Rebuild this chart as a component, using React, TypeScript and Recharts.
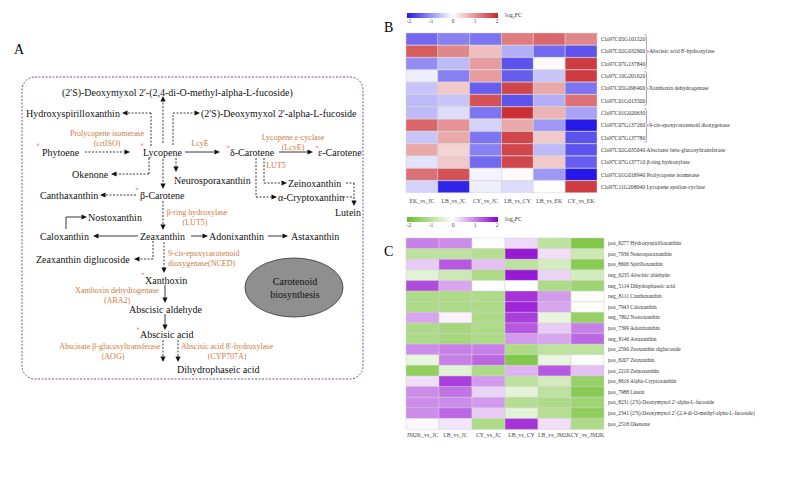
import React from "react";
import {
  BarChart, Bar, Cell, XAxis, YAxis, ScatterChart, Scatter, ReferenceLine, ReferenceArea,
} from "recharts";

const SERIF = "'Liberation Serif', 'Times New Roman', serif";

// ---------- B: carotenoid genes, log2FC ----------
const bComparisons = ["EK_vs_JC", "LB_vs_JC", "CY_vs_JC", "LB_vs_CY", "LB_vs_EK", "CY_vs_EK"];
const bGenes = [
  "Cla97C05G101520", "Cla97C02G032900", "Cla97C07G137840", "Cla97C10G201620",
  "Cla97C05G096400", "Cla97C01G013500", "Cla97C01G020630", "Cla97C07G137260",
  "Cla97C07G137780", "Cla97C02G035040", "Cla97C07G137710", "Cla97C01G018940",
  "Cla97C11G208040",
];
const bNotes = [
  "", "", "", "", "", "", "", "", "",
  "Abscisate beta-glucosyltransferase", "β-ring hydroxylase", "Prolycopene isomerase", "Lycopene epsilon-cyclase",
];
const bGroups = [
  { first: 0, last: 2, label: "Abscisic acid 8'-hydroxylase" },
  { first: 3, last: 5, label: "Xanthoxin dehydrogenase" },
  { first: 6, last: 8, label: "9-cis-epoxycarotenoid dioxygenase" },
];
const ekVsJc = [-1.3, 1.5, -1.0, -0.15, -0.5, -0.6, -0.6, 1.4, -0.5, 0.8, -0.25, 1.3, -0.4];
const lbVsJc = [-1.1, 1.1, -0.6, -1.1, 0.5, -0.5, -0.3, 1.0, 0.8, 0.4, 0.5, 1.6, -1.9];
const cyVsJc = [-1.2, 0.6, 0.9, 0.9, -1.4, 1.6, -1.2, -0.4, -1.2, -1.1, -1.3, -0.1, -0.15];
const lbVsCy = [1.2, -0.7, -1.5, -1.4, 1.7, -1.5, 1.9, 0.8, 1.7, 1.7, 1.7, 0.05, -0.3];
const lbVsEk = [1.4, -1.3, 0.05, -0.5, 0.8, -0.7, 0.7, -0.9, 0.5, -0.6, 0.5, -0.9, 0];
const cyVsEk = [1.1, -1.5, 1.8, 1.8, -1.2, 1.3, -0.8, -2.0, -1.5, -1.5, -1.4, -2.0, 1.8];
const bSeries = [ekVsJc, lbVsJc, cyVsJc, lbVsCy, lbVsEk, cyVsEk];

// ---------- C: carotenoid metabolites, log2FC ----------
const cComparisons = ["JM2K_vs_JC", "LB_vs_JC", "CY_vs_JC", "LB_vs_CY", "LB_vs_JM2K", "CY_vs_JM2K"];
const cMetabolites = [
  "pos_8277 Hydroxyspirilloxanthin", "pos_7936 Neurosporaxanthin", "pos_8606 Spirilloxanthin",
  "neg_6235 Abscisic aldehyde", "neg_5114 Dihydrophaseic acid", "neg_8111 Canthaxanthin",
  "pos_7943 Caloxanthin", "neg_7802 Nostoxanthin", "pos_7399 Adonixanthin", "neg_8146 Astaxanthin",
  "pos_2590 Zeaxanthin diglucoside", "pos_8207 Zeaxanthin", "pos_2210 Zeinoxanthin",
  "pos_8616 Alpha-Cryptoxanthin", "pos_7988 Lutein",
  "pos_8231 (2'S)-Deoxymyxol 2'-alpha-L-fucoside",
  "pos_2341 (2'S)-Deoxymyxol 2'-(2,4-di-O-methyl-alpha-L-fucoside)",
  "pos_2518 Okenone",
];
const jm2kVsJcM = [1.0, -0.9, 0.4, -0.4, 1.4, -1.1, -1.1, 0.7, -1.1, -1.1, 0.9, -0.3, -1.5, 0.25, 0.9, 0.9, 0.9, 0.05];
const lbVsJcM = [0.9, -0.9, 1.3, -0.7, 0.7, -1.1, -1.1, 0.1, -1.2, -1.2, 1.0, 1.0, -0.4, 1.5, 1.1, 0.9, 1.2, 0.2];
const cyVsJcM = [0, -1.0, 0.5, -1.1, 0, -1.1, -1.1, -1.1, -1.1, -1.1, 1.0, 1.2, -1.1, 0.8, 0.35, 0.8, 0.4, -1.1];
const lbVsCyM = [0.3, 1.8, -0.9, 1.8, 0, 1.6, 1.7, 1.5, 1.3, 0.8, -1.1, -1.7, 0.6, -0.9, -0.35, -1.0, -0.4, 1.6];
const lbVsJm2kM = [-0.9, 0.25, -0.6, 0.35, -1.1, 0.8, 0.7, -0.3, 0.4, 0.7, -0.9, -0.3, 1.3, -0.6, -0.9, -1.1, -1.0, 0.25];
const cyVsJm2kM = [-1.7, -0.7, -1.6, -0.6, -1.3, -0.05, -0.05, -1.4, 1.0, 1.2, -0.9, -0.05, 0.5, -1.4, -1.6, -1.3, -1.5, -1.1];
const cSeries = [jm2kVsJcM, lbVsJcM, cyVsJcM, lbVsCyM, lbVsJm2kM, cyVsJm2kM];

const legendTicks = ["-2", "-1", "0", "1", "2"];

// ---------- A: pathway diagram ----------
const compounds = [
  { name: "(2'S)-Deoxymyxol 2'-(2,4-di-O-methyl-alpha-L-fucoside)", x: 62, y: 92 },
  { name: "Hydroxyspirilloxanthin", x: 26, y: 113 },
  { name: "(2'S)-Deoxymyxol 2'-alpha-L-fucoside", x: 201, y: 113 },
  { name: "Phytoene", x: 42, y: 152 },
  { name: "Lycopene", x: 143, y: 152 },
  { name: "δ-Carotene", x: 230, y: 152 },
  { name: "ε-Carotene", x: 318, y: 152 },
  { name: "Okenone", x: 72, y: 174 },
  { name: "Neurosporaxanthin", x: 174, y: 180 },
  { name: "Zeinoxanthin", x: 288, y: 183 },
  { name: "Canthaxanthin", x: 40, y: 195 },
  { name: "β-Carotene", x: 140, y: 195 },
  { name: "α-Cryptoxanthin", x: 278, y: 197 },
  { name: "Lutein", x: 335, y: 212 },
  { name: "Nostoxanthin", x: 88, y: 217 },
  { name: "Caloxanthin", x: 40, y: 236 },
  { name: "Zeaxanthin", x: 140, y: 236 },
  { name: "Adonixanthin", x: 209, y: 236 },
  { name: "Astaxanthin", x: 291, y: 236 },
  { name: "Zeaxanthin diglucoside", x: 36, y: 259 },
  { name: "Xanthoxin", x: 145, y: 280 },
  { name: "Abscisic aldehyde", x: 129, y: 309 },
  { name: "Abscisic acid", x: 140, y: 334 },
  { name: "Dihydrophaseic acid", x: 177, y: 369 },
  { name: "Carotenoid", x: 295, y: 281, anchor: "middle" },
  { name: "biosynthesis", x: 295, y: 294, anchor: "middle" },
];
const enzymes = [
  { name: "Prolycopene isomerase", x: 107, y: 133 },
  { name: "(crtISO)", x: 107, y: 143 },
  { name: "LcyE", x: 200, y: 143 },
  { name: "Lycopene ε-cyclase", x: 293, y: 137 },
  { name: "(LcyE)", x: 293, y: 147 },
  { name: "LUT5", x: 276, y: 165 },
  { name: "β-ring hydroxylase", x: 197, y: 212 },
  { name: "(LUT5)", x: 195, y: 222 },
  { name: "9-cis-epoxycarotenoid", x: 168, y: 253, anchor: "start" },
  { name: "dioxygenase(NCED)", x: 168, y: 263, anchor: "start" },
  { name: "Xanthoxin dehydrogenase", x: 117, y: 290 },
  { name: "(ABA2)", x: 117, y: 300 },
  { name: "Abscisate β-glucosyltransferase", x: 110, y: 346 },
  { name: "(AOG)", x: 113, y: 356 },
  { name: "Abscisic acid 8'-hydroxylase", x: 227, y: 346 },
  { name: "(CYP707A)", x: 227, y: 356 },
];
const crosses = [
  { name: "×", x: 38, y: 145 }, { name: "×", x: 142, y: 145 }, { name: "×", x: 137, y: 189 },
  { name: "×", x: 228, y: 147 }, { name: "×", x: 317, y: 147 }, { name: "×", x: 143, y: 274 },
  { name: "×", x: 138, y: 329 },
];
// x1, y1, x2, y2, dashed, arrowhead
const arrows: number[][] = [
  [163, 143, 163, 96, 1, 1],
  [151, 146, 151, 113, 1, 0], [151, 113, 122, 113, 1, 1],
  [149, 158, 149, 174, 1, 0], [149, 174, 111, 174, 1, 1],
  [85, 152, 130, 152, 1, 1],
  [163, 159, 163, 189, 1, 1],
  [136, 195, 100, 195, 1, 1],
  [163, 201, 163, 230, 1, 1],
  [66, 229, 66, 217, 0, 0], [66, 217, 87, 217, 0, 1],
  [138, 236, 93, 236, 0, 1],
  [191, 236, 208, 236, 0, 1],
  [268, 236, 288, 236, 0, 1],
  [153, 241, 153, 259, 1, 0], [153, 259, 134, 259, 1, 1],
  [164, 242, 164, 273, 1, 1],
  [165, 285, 165, 303, 0, 1],
  [165, 314, 165, 330, 0, 1],
  [163, 340, 163, 362, 1, 1],
  [178, 340, 178, 362, 1, 1],
  [185, 152, 220, 152, 0, 1],
  [279, 152, 313, 152, 0, 1],
  [173, 145, 173, 113, 1, 0], [173, 113, 200, 113, 1, 1],
  [176, 158, 176, 172, 1, 1],
  [264, 158, 264, 183, 1, 0], [264, 183, 287, 183, 1, 1],
  [256, 158, 256, 197, 1, 0], [256, 197, 277, 197, 1, 1],
  [346, 183, 354, 183, 1, 0], [343, 197, 354, 197, 1, 0], [354, 183, 354, 206, 1, 1],
];

const hex = (h: string) => [1, 3, 5].map((i) => parseInt(h.slice(i, i + 2), 16));
const mix = (a: string, b: string, t: number) => {
  const A = hex(a), B = hex(b);
  return `rgb(${A.map((v, i) => Math.round(v + (B[i] - v) * t)).join(",")})`;
};
const diverging = (low: string, high: string) => (v: number) => {
  const t = Math.max(-1, Math.min(1, v / 2));
  return t < 0 ? mix("#ffffff", low, -t) : mix("#ffffff", high, t);
};
const BLUE = "#2618E8", RED = "#C9252B", GREEN = "#6CBD27", PURPLE = "#8E00CF";
const blueRed = diverging(BLUE, RED);
const greenPurple = diverging(GREEN, PURPLE);

const B_ROW = 160 / bGenes.length;

const GeneTick = (p: any) => {
  const i = bGenes.indexOf(p.payload.value);
  const note = bNotes[i];
  const group = bGroups.find((g) => (g.first + g.last) / 2 === i);
  const bx = p.x + 44.5;
  const top = p.y - 1.5 * B_ROW + 1.5, bot = p.y + 1.5 * B_ROW - 1.5;
  return (
    <g>
      <text x={p.x} y={p.y} dy="0.35em" fontSize={5.7} fill="#333" fontFamily={SERIF}>
        {p.payload.value}{note ? " " + note : ""}
      </text>
      {group && (
        <g>
          <path
            d={`M${bx - 1},${top} Q${bx + 1},${top} ${bx + 1},${top + 2} L${bx + 1},${p.y - 2} Q${bx + 1},${p.y} ${bx + 3},${p.y} Q${bx + 1},${p.y} ${bx + 1},${p.y + 2} L${bx + 1},${bot - 2} Q${bx + 1},${bot} ${bx - 1},${bot}`}
            fill="none" stroke="#8a4fb5" strokeWidth={0.6}
          />
          <text x={bx + 3.5} y={p.y} dy="0.35em" fontSize={5.7} fill="#333" fontFamily={SERIF}>{group.label}</text>
        </g>
      )}
    </g>
  );
};

const MetaboliteTick = (p: any) => (
  <text x={p.x} y={p.y} dy="0.35em" fontSize={5.4} fill="#333" fontFamily={SERIF}>{p.payload.value}</text>
);

const Heatmap = (props: any) => {
  const { rows, columns, series, color, tick, width, height, yAxisWidth, tickGap } = props;
  const data = rows.map((r: string) => {
    const o: any = { name: r };
    columns.forEach((_: string, j: number) => (o["c" + j] = 1));
    return o;
  });
  return (
    <BarChart layout="vertical" width={width} height={height} data={data}
      margin={{ top: 5, right: 0, left: 6, bottom: 0 }} barCategoryGap={0}>
      <XAxis type="number" domain={[0, columns.length]} ticks={columns.map((_: string, j: number) => j + 0.5)}
        tickFormatter={(v: number) => columns[Math.floor(v)]} interval={0} axisLine={false} tickLine={false}
        tickSize={0} tickMargin={tickGap} height={20} tick={{ fontSize: 5.8, fill: "#444", fontFamily: SERIF }} />
      <YAxis type="category" dataKey="name" orientation="right" width={yAxisWidth} axisLine={false}
        tickLine={false} tickSize={0} tickMargin={4} interval={0} tick={(p: any) => tick(p)} />
      {columns.map((c: string, j: number) => (
        <Bar key={c} dataKey={"c" + j} stackId="h" isAnimationActive={false}>
          {rows.map((r: string, i: number) => (
            <Cell key={r} fill={color(series[j][i])} stroke="#d2d2d2" strokeWidth={0.5} />
          ))}
        </Bar>
      ))}
    </BarChart>
  );
};

const Legend = ({ top, low, high }: { top: number; low: string; high: string }) => (
  <>
    <div style={{ position: "absolute", left: 407, top, width: 91, height: 5,
      background: `linear-gradient(to right, ${low}, #ffffff, ${high})` }} />
    {legendTicks.map((t, i) => (
      <div key={t} style={{ position: "absolute", left: 409 + i * 22, top: top + 6, fontSize: 5.5,
        lineHeight: 1, color: "#444", transform: "translateX(-50%)" }}>{t}</div>
    ))}
    <div style={{ position: "absolute", left: 505, top: top - 1, fontSize: 6, lineHeight: 1, color: "#333" }}>
      log<sub style={{ fontSize: 4 }}>2</sub>FC
    </div>
  </>
);

const arrowShape = (dashed: boolean, head: boolean) => (p: any) => {
  const { x1, y1, x2, y2 } = p;
  const dx = x2 - x1, dy = y2 - y1;
  const len = Math.hypot(dx, dy) || 1;
  const ux = dx / len, uy = dy / len;
  const hl = 5.5, hw = 2.6;
  const bx = x2 - ux * hl, by = y2 - uy * hl;
  return (
    <g>
      <line x1={x1} y1={y1} x2={head ? bx : x2} y2={head ? by : y2} stroke="#222" strokeWidth={0.9}
        strokeDasharray={dashed ? "2 1.5" : undefined} />
      {head && (
        <polygon points={`${x2},${y2} ${bx - uy * hw},${by + ux * hw} ${bx + uy * hw},${by - ux * hw}`} fill="#111" />
      )}
    </g>
  );
};

const textShape = (size: number, color: string, anchor: string) => (p: any) => (
  <text x={p.cx} y={p.cy} dy="0.35em" textAnchor={p.payload.anchor ?? anchor} fontSize={size}
    fill={color} fontFamily={SERIF}>{p.payload.name}</text>
);

const Pathway = () => (
  <ScatterChart width={390} height={478} margin={{ top: 0, right: 0, bottom: 0, left: 0 }}>
    <XAxis type="number" dataKey="x" domain={[0, 390]} hide />
    <YAxis type="number" dataKey="y" domain={[0, 478]} reversed hide />
    <ReferenceArea x1={22} x2={363} y1={77} y2={379}
      shape={(p: any) => (
        <rect x={p.x} y={p.y} width={p.width} height={p.height} rx={13} fill="none"
          stroke="#7B4A9E" strokeWidth={1} strokeDasharray="2 1.5" />
      )} />
    <ReferenceArea x1={245} x2={343} y1={258} y2={317}
      shape={(p: any) => (
        <ellipse cx={p.x + p.width / 2} cy={p.y + p.height / 2} rx={p.width / 2} ry={p.height / 2}
          fill="#8f8f8f" stroke="#333" strokeWidth={0.8} />
      )} />
    {arrows.map((a, i) => (
      <ReferenceLine key={i} segment={[{ x: a[0], y: a[1] }, { x: a[2], y: a[3] }]}
        shape={arrowShape(a[4] === 1, a[5] === 1)} />
    ))}
    <Scatter data={compounds} isAnimationActive={false} shape={textShape(10, "#111", "start")} />
    <Scatter data={enzymes} isAnimationActive={false} shape={textShape(8, "#CC7A3E", "middle")} />
    <Scatter data={crosses} isAnimationActive={false} shape={textShape(7, "#C0393B", "middle")} />
  </ScatterChart>
);

export default function App() {
  return (
    <div style={{ position: "absolute", left: 0, top: 0, width: 788, height: 478, background: "#fff",
      fontFamily: SERIF, overflow: "hidden" }}>
      <div style={{ position: "absolute", left: 0, top: 0 }}><Pathway /></div>
      <div style={{ position: "absolute", left: 14, top: 43, fontSize: 14, lineHeight: 1 }}>A</div>
      <div style={{ position: "absolute", left: 384, top: 21, fontSize: 14, lineHeight: 1 }}>B</div>
      <div style={{ position: "absolute", left: 384, top: 245, fontSize: 14, lineHeight: 1 }}>C</div>
      <Legend top={13} low={BLUE} high={RED} />
      <Legend top={217} low={GREEN} high={PURPLE} />
      <div style={{ position: "absolute", left: 400, top: 28 }}>
        <Heatmap rows={bGenes} columns={bComparisons} series={bSeries} color={blueRed} tick={GeneTick}
          width={388} height={185} yAxisWidth={191} tickGap={6} />
      </div>
      <div style={{ position: "absolute", left: 400, top: 233 }}>
        <Heatmap rows={cMetabolites} columns={cComparisons} series={cSeries} color={greenPurple}
          tick={MetaboliteTick} width={388} height={216} yAxisWidth={184} tickGap={4} />
      </div>
    </div>
  );
}
